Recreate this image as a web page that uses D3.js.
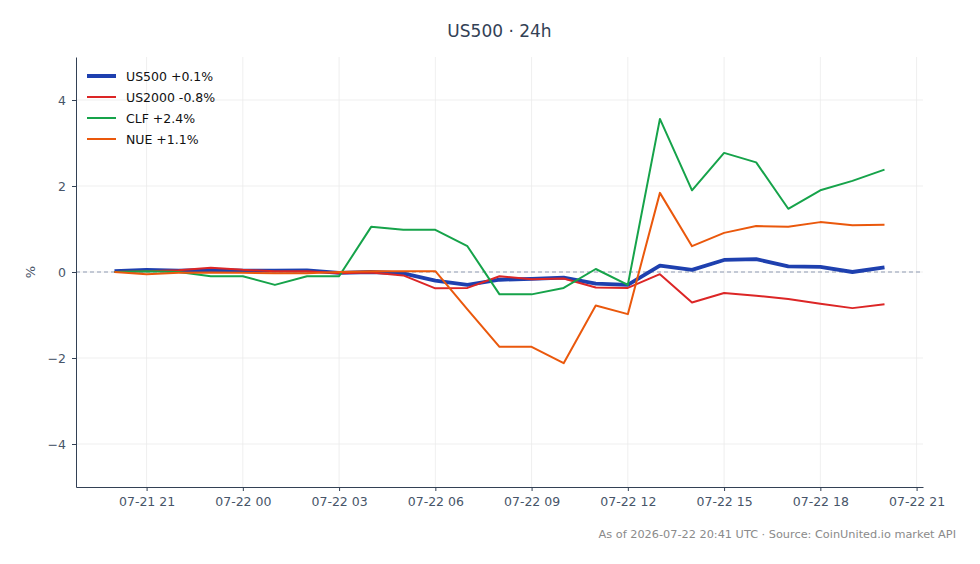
<!DOCTYPE html>
<html>
<head>
<meta charset="utf-8">
<script src="https://cdn.jsdelivr.net/npm/d3@7"></script>
<style>
  body { margin: 0; background: #fff; }
  svg { display: block; font-family: "DejaVu Sans", sans-serif; }
</style>
</head>
<body>
<div id="chart"></div>
<script>
// hourly samples, UTC
var times = [
  "2026-07-21T20:00Z", "2026-07-21T21:00Z", "2026-07-21T22:00Z", "2026-07-21T23:00Z",
  "2026-07-22T00:00Z", "2026-07-22T01:00Z", "2026-07-22T02:00Z", "2026-07-22T03:00Z",
  "2026-07-22T04:00Z", "2026-07-22T05:00Z", "2026-07-22T06:00Z", "2026-07-22T07:00Z",
  "2026-07-22T08:00Z", "2026-07-22T09:00Z", "2026-07-22T10:00Z", "2026-07-22T11:00Z",
  "2026-07-22T12:00Z", "2026-07-22T13:00Z", "2026-07-22T14:00Z", "2026-07-22T15:00Z",
  "2026-07-22T16:00Z", "2026-07-22T17:00Z", "2026-07-22T18:00Z", "2026-07-22T19:00Z",
  "2026-07-22T20:00Z"
];

var us500  = [0.02, 0.05, 0.03, 0.05, 0.03, 0.03, 0.04, -0.02, 0.0, -0.03, -0.2, -0.3, -0.18, -0.16, -0.13, -0.27, -0.3, 0.15, 0.05, 0.28, 0.3, 0.13, 0.12, 0.0, 0.11];
var us2000 = [0.0, 0.02, 0.04, 0.1, 0.05, 0.02, 0.02, -0.03, -0.01, -0.08, -0.38, -0.37, -0.1, -0.17, -0.15, -0.36, -0.37, -0.05, -0.71, -0.49, -0.55, -0.63, -0.74, -0.84, -0.75];
var clf    = [0.0, 0.02, 0.0, -0.1, -0.1, -0.3, -0.1, -0.1, 1.05, 0.98, 0.98, 0.6, -0.52, -0.52, -0.37, 0.07, -0.3, 3.56, 1.9, 2.77, 2.55, 1.47, 1.9, 2.12, 2.38];
var nue    = [0.0, -0.05, -0.02, -0.01, -0.02, -0.03, -0.03, 0.0, 0.02, 0.02, 0.02, -0.87, -1.74, -1.74, -2.12, -0.78, -0.98, 1.84, 0.6, 0.91, 1.07, 1.05, 1.16, 1.09, 1.1];

var seriesNames = ["US500 +0.1%", "US2000 -0.8%", "CLF +2.4%", "NUE +1.1%"];
var seriesValues = [us500, us2000, clf, nue];
var seriesColors = ["#1e40af", "#dc2626", "#16a34a", "#ea580c"];
var seriesWidths = [3.8, 2, 2, 2];

var yTicks = [-4, -2, 0, 2, 4];

var width = 980, height = 564;
var margin = { left: 76, right: 57, top: 57, bottom: 77 };

var svg = d3.select("#chart")
  .append("svg")
  .attr("width", width)
  .attr("height", height);

var parsed = times.map(function(t) { return new Date(t); });

var x = d3.scaleUtc()
  .domain([new Date("2026-07-21T18:48Z"), new Date("2026-07-22T21:12Z")])
  .range([margin.left, width - margin.right]);

var y = d3.scaleLinear()
  .domain([-5, 5])
  .range([height - margin.bottom, margin.top]);

var xTicks = d3.utcHour.every(3).range(new Date("2026-07-21T21:00Z"), new Date("2026-07-22T21:01Z"));

// grid
svg.append("g")
  .selectAll("line")
  .data(xTicks)
  .enter().append("line")
  .attr("x1", d => x(d)).attr("x2", d => x(d))
  .attr("y1", margin.top).attr("y2", height - margin.bottom)
  .attr("stroke", "#ebebeb").attr("stroke-width", 0.8);

svg.append("g")
  .selectAll("line")
  .data(yTicks)
  .enter().append("line")
  .attr("x1", margin.left).attr("x2", width - margin.right)
  .attr("y1", d => y(d)).attr("y2", d => y(d))
  .attr("stroke", "#ebebeb").attr("stroke-width", 0.8);

// zero line
svg.append("line")
  .attr("x1", margin.left).attr("x2", width - margin.right)
  .attr("y1", y(0)).attr("y2", y(0))
  .attr("stroke", "#8f9bb3")
  .attr("stroke-width", 1.1)
  .attr("stroke-dasharray", "4,3");

// axes
var xAxis = d3.axisBottom(x).tickValues(xTicks).tickFormat(d3.utcFormat("%m-%d %H"))
  .tickSizeInner(4).tickSizeOuter(0).tickPadding(6);
var yAxis = d3.axisLeft(y).tickValues(yTicks).tickFormat(d => d < 0 ? "\u2212" + Math.abs(d) : d)
  .tickSizeInner(4).tickSizeOuter(0).tickPadding(6);

var gx = svg.append("g")
  .attr("transform", "translate(0," + (height - margin.bottom) + ")")
  .call(xAxis);
var gy = svg.append("g")
  .attr("transform", "translate(" + margin.left + ",0)")
  .call(yAxis);

[gx, gy].forEach(function(g) {
  g.select(".domain").attr("stroke", "#334155").attr("stroke-width", 1);
  g.selectAll(".tick line").attr("stroke", "#334155");
  g.selectAll(".tick text")
    .attr("fill", "#475569")
    .style("font-family", "DejaVu Sans")
    .style("font-size", "12.5px");
});

// lines
var line = d3.line()
  .x(function(d, i) { return x(parsed[i]); })
  .y(function(d) { return y(d); });

seriesValues.forEach(function(vals, k) {
  svg.append("path")
    .datum(vals)
    .attr("fill", "none")
    .attr("stroke", seriesColors[k])
    .attr("stroke-width", seriesWidths[k])
    .attr("stroke-linejoin", "round")
    .attr("d", line);
});

// legend
var legend = svg.append("g");
seriesNames.forEach(function(name, k) {
  var ly = 76 + k * 21;
  legend.append("line")
    .attr("x1", 87).attr("x2", 116)
    .attr("y1", ly).attr("y2", ly)
    .attr("stroke", seriesColors[k])
    .attr("stroke-width", k === 0 ? 4 : 2);
  legend.append("text")
    .attr("x", 126).attr("y", ly + 4.5)
    .attr("fill", "#111")
    .style("font-size", "12.5px")
    .text(name);
});

// title, labels
svg.append("text")
  .attr("x", (margin.left + width - margin.right) / 2)
  .attr("y", 37)
  .attr("text-anchor", "middle")
  .attr("fill", "#334155")
  .style("font-size", "17px")
  .text("US500 · 24h");

svg.append("text")
  .attr("transform", "translate(35," + y(0) + ") rotate(-90)")
  .attr("text-anchor", "middle")
  .attr("fill", "#475569")
  .style("font-size", "13px")
  .text("%");

svg.append("text")
  .attr("x", 956)
  .attr("y", 538)
  .attr("text-anchor", "end")
  .attr("fill", "#8a8a8a")
  .style("font-size", "11.3px")
  .text("As of 2026-07-22 20:41 UTC · Source: CoinUnited.io market API");
</script>
</body>
</html>
